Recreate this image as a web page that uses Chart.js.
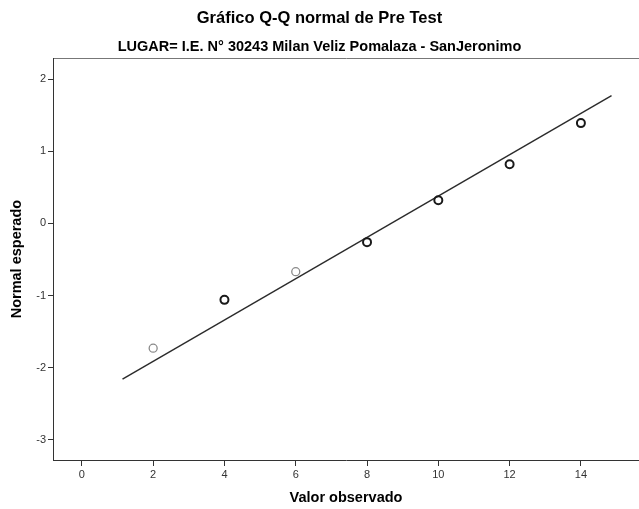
<!DOCTYPE html>
<html lang="es">
<head>
  <meta charset="UTF-8">
  <title>Gráfico Q-Q normal de Pre Test</title>
  <script src="https://cdn.jsdelivr.net/npm/chart.js"></script>
  <style>
    html, body { margin: 0; padding: 0; background: #fff; }
    .chart-container { width: 639px; height: 509px; position: relative; }
  </style>
</head>
<body>
  <div class="chart-container">
    <canvas id="qqChart"></canvas>
  </div>

  <script>
    // valores
    const observed = [2, 4, 6, 8, 10, 12, 14];
    const expectedNormal = [-1.73, -1.06, -0.67, -0.26, 0.32, 0.82, 1.39];
    // recta de referencia (extremos)
    const lineX = [1.14, 14.86];
    const lineY = [-2.16, 1.77];

    const pointColors = ['#8a8a8a', '#1a1a1a', '#8a8a8a', '#1a1a1a', '#1a1a1a', '#1a1a1a', '#1a1a1a'];

    const fontMain = "'Liberation Sans', Arial, sans-serif";
    const fontNarrow = "'Liberation Sans Narrow', 'Liberation Sans', Arial, sans-serif";

    // sin relleno lateral extra en los ejes horizontales
    const noSidePad = s => { s.paddingLeft = 0; s.paddingRight = 0; };

    const ctx = document.getElementById('qqChart').getContext('2d');

    new Chart(ctx, {
      type: 'scatter',
      data: {
        datasets: [
          {
            label: 'Observado',
            data: observed.map((x, i) => ({ x, y: expectedNormal[i] })),
            pointStyle: 'circle',
            pointRadius: 4,
            pointBackgroundColor: 'rgba(255,255,255,0)',
            pointBorderColor: pointColors,
            pointBorderWidth: pointColors.map(c => c === '#8a8a8a' ? 1.3 : 2),
            showLine: false,
            order: 1
          },
          {
            label: 'Recta',
            data: lineX.map((x, i) => ({ x, y: lineY[i] })),
            showLine: true,
            borderColor: '#2b2b2b',
            borderWidth: 1.4,
            pointRadius: 0,
            order: 2
          }
        ]
      },
      options: {
        responsive: true,
        maintainAspectRatio: false,
        animation: false,
        layout: { padding: 0, autoPadding: false },
        plugins: {
          legend: { display: false },
          tooltip: { enabled: false },
          title: {
            display: true,
            text: 'Gráfico Q-Q normal de Pre Test',
            color: '#000',
            font: { family: fontMain, size: 16.5, weight: 'bold' },
            padding: { top: 9, bottom: 0 }
          },
          subtitle: {
            display: true,
            text: 'LUGAR= I.E. N° 30243 Milan Veliz Pomalaza - SanJeronimo',
            color: '#000',
            font: { family: fontNarrow, size: 14.5, weight: 'bold' },
            padding: { top: 9, bottom: 0 }
          }
        },
        scales: {
          x: {
            type: 'linear',
            position: 'bottom',
            min: -0.81,
            max: 15.63,
            afterFit: s => { s.height = 49; noSidePad(s); },
            ticks: {
              stepSize: 2,
              includeBounds: false,
              color: '#333',
              padding: 2,
              font: { family: fontMain, size: 11 }
            },
            grid: { drawOnChartArea: false, drawTicks: true, tickLength: 6, color: '#333' },
            border: { display: true, color: '#333', width: 1 },
            title: {
              display: true,
              text: 'Valor observado',
              color: '#000',
              font: { family: fontMain, size: 14.5, weight: 'bold' },
              padding: { top: 0, bottom: 2 }
            }
          },
          xTop: {
            type: 'linear',
            position: 'top',
            min: -0.81,
            max: 15.63,
            afterFit: s => { s.height = 3; noSidePad(s); },
            ticks: { display: false },
            grid: { display: false },
            border: { display: true, color: '#777', width: 1 }
          },
          y: {
            type: 'linear',
            min: -3.28,
            max: 2.29,
            afterFit: s => { s.width = 53; s.paddingTop = 0; s.paddingBottom = 0; },
            ticks: {
              stepSize: 1,
              includeBounds: false,
              color: '#333',
              padding: 2,
              font: { family: fontMain, size: 11 }
            },
            grid: { drawOnChartArea: false, drawTicks: true, tickLength: 5, color: '#333' },
            border: { display: true, color: '#333', width: 1 },
            title: {
              display: true,
              text: 'Normal esperado',
              color: '#000',
              font: { family: fontMain, size: 14.5, weight: 'bold' },
              padding: { top: 8, bottom: 0 }
            }
          }
        }
      }
    });
  </script>
</body>
</html>
